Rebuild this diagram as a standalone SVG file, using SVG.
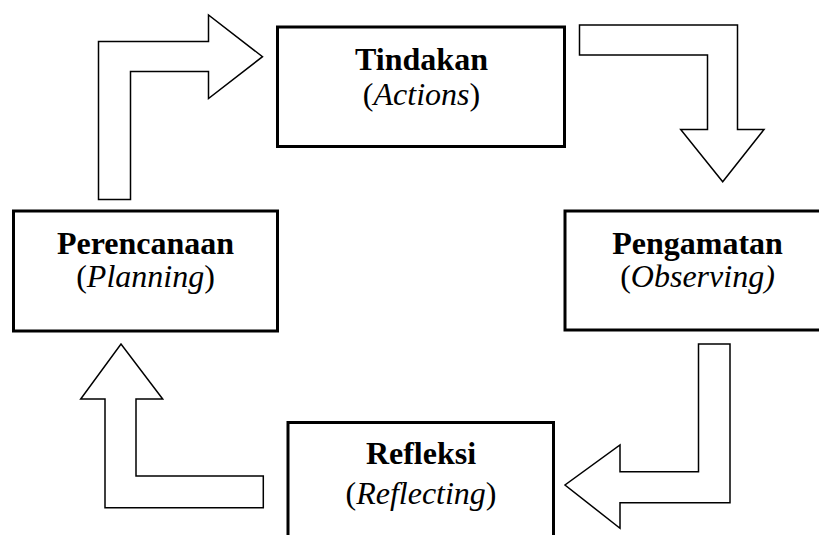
<svg xmlns="http://www.w3.org/2000/svg" width="819" height="535" viewBox="0 0 819 535">
<style>
.box{fill:#fff;stroke:#000;stroke-width:3}
.arr{fill:#fff;stroke:#000;stroke-width:1.5;stroke-linejoin:miter}
text{font-family:"Liberation Serif","Times New Roman",serif;font-size:32px;text-anchor:middle;fill:#000}
.b{font-weight:bold}
.i{font-style:italic}
</style>
<rect width="819" height="535" fill="#fff"/>
<g id="connectors">
<polygon class="arr" points="98.5,199.5 98.5,41.5 208.5,41.5 208.5,15 262.5,56.7 208.5,98.5 208.5,71.5 130.5,71.5 130.5,199.5"/>
<polygon class="arr" points="579.5,25 737.5,25 737.5,129.5 764,129.5 722.7,181.7 680.7,129.5 707.5,129.5 707.5,55 579.5,55"/>
<polygon class="arr" points="698.5,344 730,344 730,502.7 620,502.7 620,528.3 565,485 620,445 620,471.7 698.5,471.7"/>
<polygon class="arr" points="263.3,507.7 105,507.7 105,399 80.7,399 121,344 162.7,399 136,399 136,476 263.3,476"/>
</g>
<g id="tindakan">
<rect class="box" x="277.5" y="27" width="287" height="119.5"/>
<text x="421.5" y="70" class="b">Tindakan</text>
<text x="421.5" y="105">(<tspan class="i">Actions</tspan>)</text>
</g>
<g id="perencanaan">
<rect class="box" x="13.5" y="211" width="264" height="120"/>
<text x="145.5" y="253.5" class="b">Perencanaan</text>
<text x="145.5" y="287">(<tspan class="i">Planning</tspan>)</text>
</g>
<g id="pengamatan">
<rect class="box" x="565" y="211" width="270" height="119"/>
<text x="697.5" y="253.5" class="b">Pengamatan</text>
<text x="697.5" y="287">(<tspan class="i">Observing)</tspan></text>
</g>
<g id="refleksi">
<rect class="box" x="288" y="422.5" width="265.5" height="130"/>
<text x="421" y="463.5" class="b">Refleksi</text>
<text x="421" y="503.5">(<tspan class="i">Reflecting</tspan>)</text>
</g>
</svg>
